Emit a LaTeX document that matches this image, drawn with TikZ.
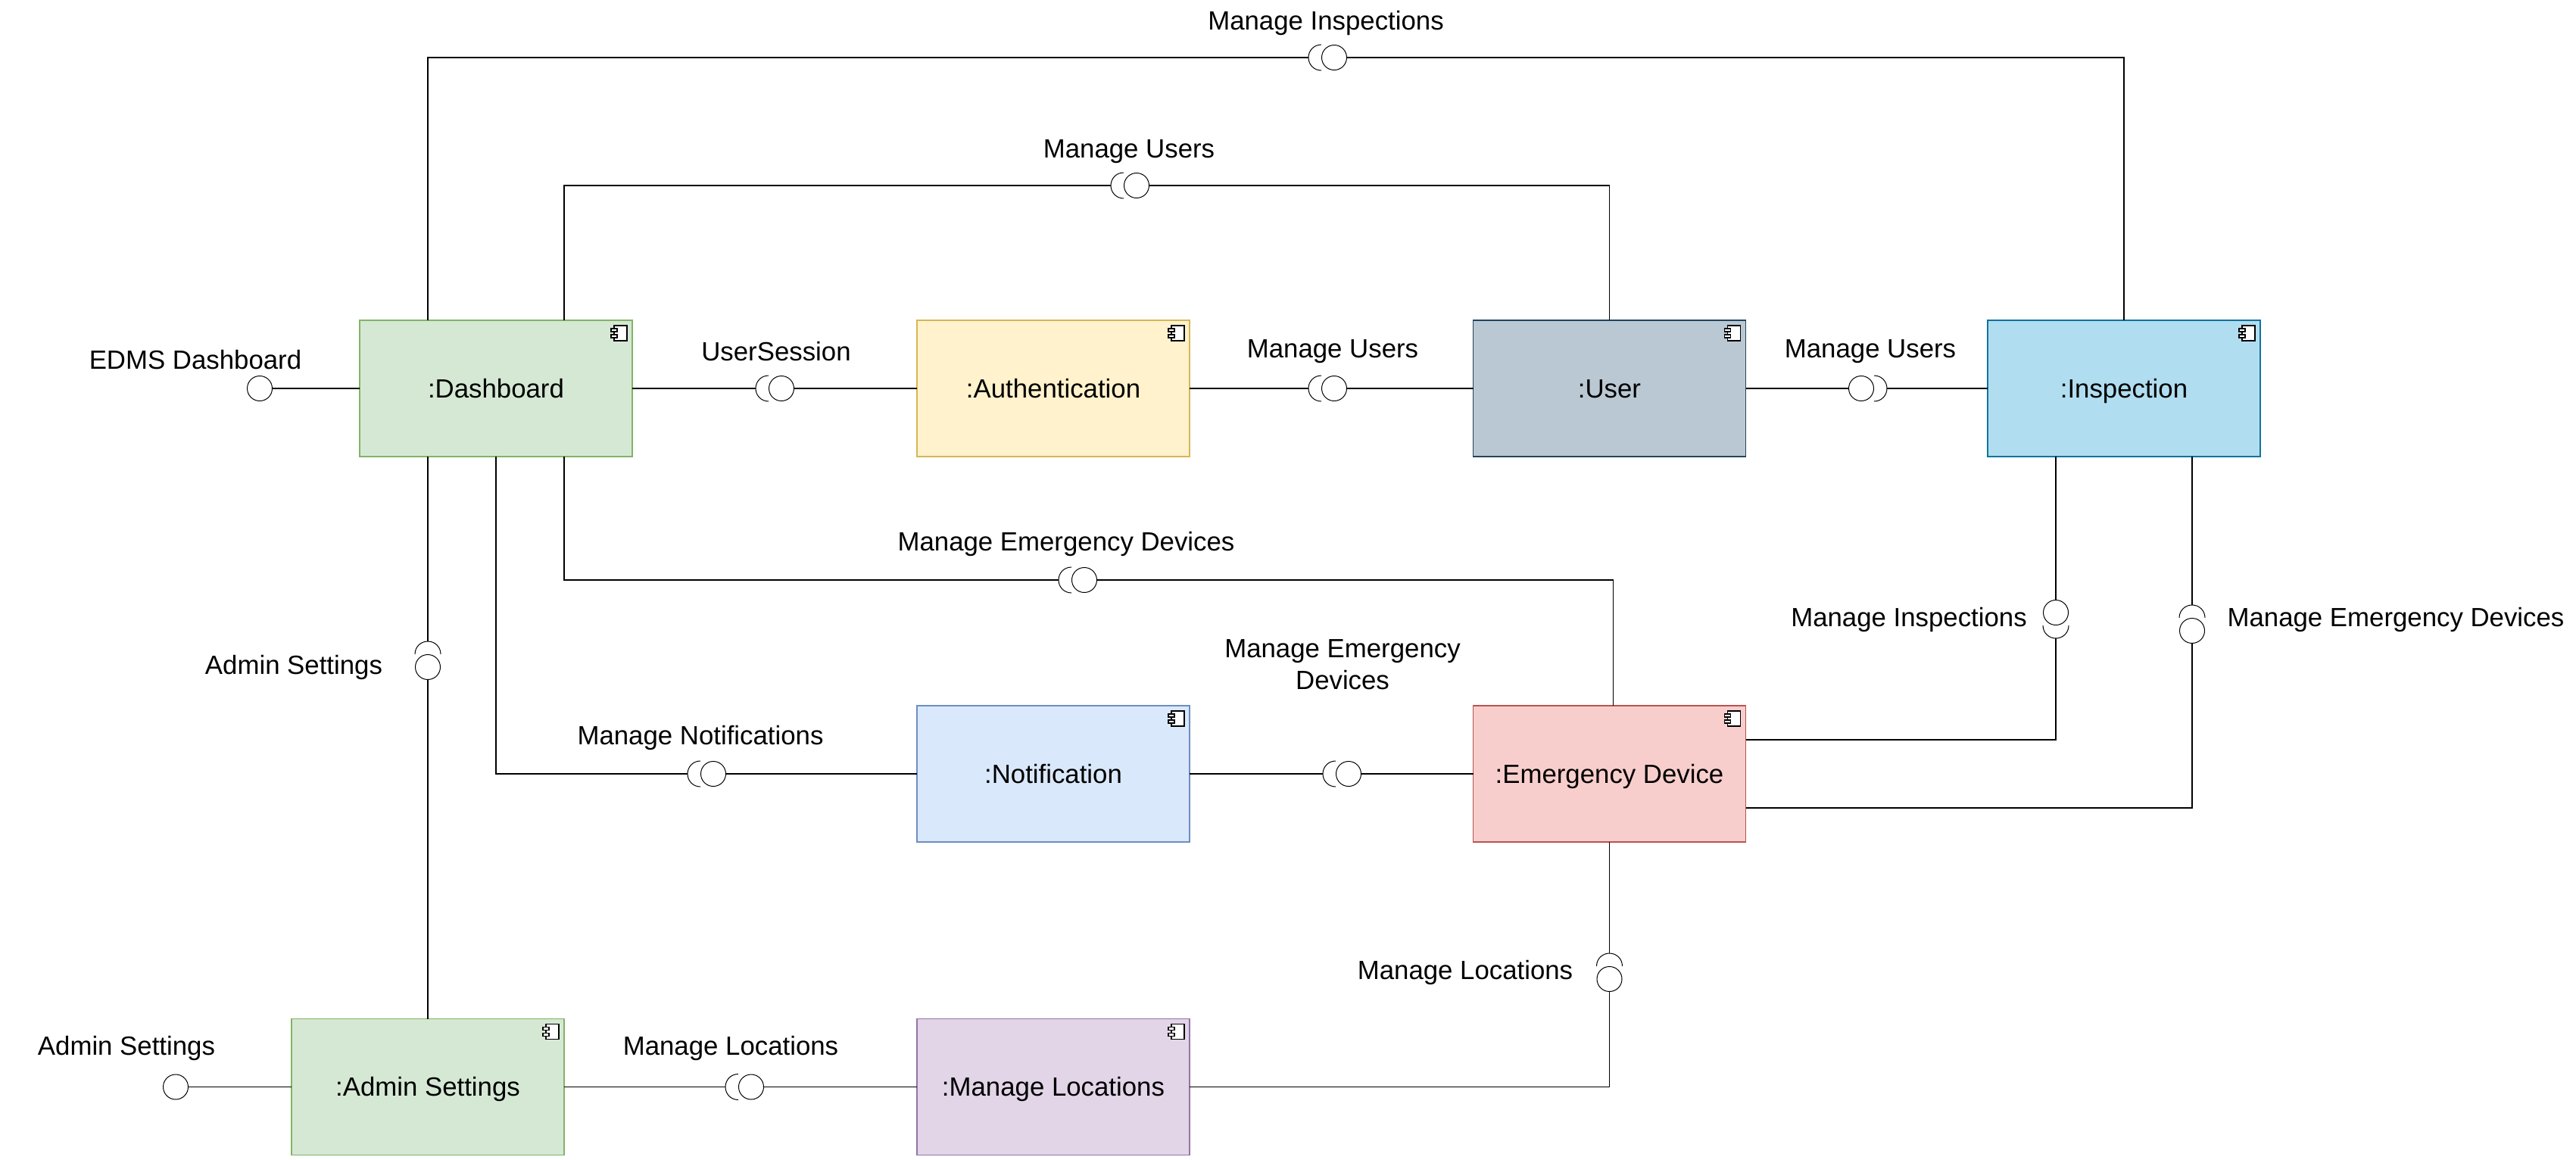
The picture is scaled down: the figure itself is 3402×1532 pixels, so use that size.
\documentclass[tikz,border=0pt]{standalone}
\usepackage{fontspec}
\setmainfont{Liberation Sans}
\definecolor{greenF}{HTML}{D5E8D4}\definecolor{greenD}{HTML}{82B366}
\definecolor{yellowF}{HTML}{FFF2CC}\definecolor{yellowD}{HTML}{D6B656}
\definecolor{slateF}{HTML}{BAC8D3}\definecolor{slateD}{HTML}{23445D}
\definecolor{cyanF}{HTML}{B1DDF0}\definecolor{cyanD}{HTML}{10739E}
\definecolor{blueF}{HTML}{DAE8FC}\definecolor{blueD}{HTML}{6C8EBF}
\definecolor{redF}{HTML}{F8CECC}\definecolor{redD}{HTML}{B85450}
\definecolor{purpleF}{HTML}{E1D5E7}\definecolor{purpleD}{HTML}{9673A6}
\tikzset{
  comp/.style={draw=#1D, fill=#1F, line width=0.7pt, minimum width=180pt, minimum height=90pt, inner sep=0pt, outer sep=0pt, text height=16pt, text depth=3.6pt},
  ball/.style={circle, draw, line width=0.5pt, minimum size=16.5pt, inner sep=0pt},
  lbl/.style={align=center, inner sep=0pt},
  conn/.style={line width=0.6pt},
  pics/socket/.style={code={
    \coordinate (-apex) at (0,0);
    \draw[line width=0.5pt] (17,-17) .. controls (7,-17) and (0,-9) .. (0,0) .. controls (0,9) and (7,17) .. (17,17);
  }},
  pics/compicon/.style={code={
    \draw[line width=0.6pt, fill=white] (-24,7) rectangle (-7,27);
    \draw[line width=0.6pt, fill=white] (-28,11) rectangle (-20,15);
    \draw[line width=0.6pt, fill=white] (-28,19) rectangle (-20,23);
  }},
}
\begin{document}
\begin{tikzpicture}[x=0.5pt, y=-0.5pt, font=\fontsize{17.4}{21}\selectfont]
    \useasboundingbox (0,0) rectangle (3402,1532);

    % Components
    \node[comp=green]  at (655, 513)     (dash)  {:Dashboard};
    \node[comp=yellow] at (1391, 513)    (auth)  {:Authentication};
    \node[comp=slate]  at (2125.5, 513)  (user)  {:User};
    \node[comp=cyan]   at (2805, 513)    (insp)  {:Inspection};
    \node[comp=blue]   at (1391, 1022)   (noti)  {:Notification};
    \node[comp=red]    at (2125.5, 1022) (emer)  {:Emergency Device};
    \node[comp=green]  at (565, 1435.5)  (admin) {:Admin Settings};
    \node[comp=purple] at (1391, 1435.5) (loca)  {:Manage Locations};

    \foreach \n in {dash, auth, user, insp, noti, emer, admin, loca}
      \pic at (\n.north east) {compicon};

    % Balls
    \node[ball] at (343, 513)    (bEdms)   {};
    \node[ball] at (232, 1435.5) (bAdmin)  {};
    \node[ball] at (1762, 76)    (bTop)    {};
    \node[ball] at (1501, 245)   (bUsers)  {};
    \node[ball] at (1032, 513)   (bSess)   {};
    \node[ball] at (1762, 513)   (bAuth)   {};
    \node[ball] at (2458, 513)   (bUser)   {};
    \node[ball] at (1432, 766)   (bEmer)   {};
    \node[ball] at (942, 1022)   (bNoti)   {};
    \node[ball] at (1781, 1022)  (bNoEm)   {};
    \node[ball] at (992, 1435.5) (bLoca)   {};
    \node[ball] at (565, 881)    (bSett)   {};
    \node[ball] at (2125.5, 1293) (bEmLo)  {};
    \node[ball] at (2715, 809)   (bInsp)   {};
    \node[ball] at (2895, 833)   (bInEm)   {};

    % Sockets
    \pic (sTop)   at (1728, 76)    {socket};
    \pic (sUsers) at (1467, 245)   {socket};
    \pic (sSess)  at (998, 513)    {socket};
    \pic (sAuth)  at (1728, 513)   {socket};
    \pic[rotate=180] (sUser) at (2492, 513) {socket};
    \pic (sEmer)  at (1398, 766)   {socket};
    \pic (sNoti)  at (908, 1022)   {socket};
    \pic (sNoEm)  at (1747, 1022)  {socket};
    \pic (sLoca)  at (958, 1435.5) {socket};
    \pic[rotate=-90] (sSett) at (565, 847)  {socket};
    \pic[rotate=-90] (sEmLo) at (2125.5, 1259) {socket};
    \pic[rotate=90]  (sInsp) at (2715, 843) {socket};
    \pic[rotate=-90] (sInEm) at (2895, 799) {socket};

    % Connectors
    \draw[conn] (bEdms) -- (dash);
    \draw[conn] (bAdmin) -- (admin);

    \draw[conn] ([xshift=-45pt]dash.north) |- (sTop-apex);
    \draw[conn] (bTop) -| (insp.north);

    \draw[conn] ([xshift=45pt]dash.north) |- (sUsers-apex);
    \draw[conn] (bUsers) -| (user.north);

    \draw[conn] (dash) -- (sSess-apex);
    \draw[conn] (bSess) -- (auth);

    \draw[conn] (auth) -- (sAuth-apex);
    \draw[conn] (bAuth) -- (user);

    \draw[conn] (user) -- (bUser);
    \draw[conn] (sUser-apex) -- (insp);

    \draw[conn] ([xshift=45pt]dash.south) |- (sEmer-apex);
    \draw[conn] (bEmer) -| ([xshift=2.5pt]emer.north);

    \draw[conn] (dash.south) |- (sNoti-apex);
    \draw[conn] (bNoti) -- (noti);

    \draw[conn] (noti) -- (sNoEm-apex);
    \draw[conn] (bNoEm) -- (emer);

    \draw[conn] ([xshift=-45pt]dash.south) -- (sSett-apex);
    \draw[conn] (bSett) -- (admin);

    \draw[conn] (admin) -- (sLoca-apex);
    \draw[conn] (bLoca) -- (loca);

    \draw[conn] (emer) -- (sEmLo-apex);
    \draw[conn] (bEmLo) |- (loca);

    \draw[conn] ([xshift=-45pt]insp.south) -- (bInsp);
    \draw[conn] (sInsp-apex) |- ([yshift=22.5pt]emer.east);

    \draw[conn] ([xshift=45pt]insp.south) -- (sInEm-apex);
    \draw[conn] (bInEm) |- ([yshift=-22.5pt]emer.east);

    % Labels
    \node[lbl] at (1751, 30)   (tTop)   {Manage Inspections};
    \node[lbl] at (1491, 200)  (tUsers) {Manage Users};
    \node[lbl] at (258, 475)   (tEdms)  {EDMS Dashboard};
    \node[lbl] at (1025, 464)  (tSess)  {UserSession};
    \node[lbl] at (1760, 464)  (tAuth)  {Manage Users};
    \node[lbl] at (2470, 464)  (tUser)  {Manage Users};
    \node[lbl] at (1408, 718)  (tEmer)  {Manage Emergency Devices};
    \node[lbl] at (925, 974)   (tNoti)  {Manage Notifications};
    \node[lbl] at (1773, 878)  (tNoEm)  {Manage Emergency\\Devices};
    \node[lbl] at (2521, 818)  (tInsp)  {Manage Inspections};
    \node[lbl] at (3164, 818)  (tInEm)  {Manage Emergency Devices};
    \node[lbl] at (388, 881)   (tSett)  {Admin Settings};
    \node[lbl] at (1935, 1284) (tEmLo)  {Manage Locations};
    \node[lbl] at (167, 1384)  (tAdmin) {Admin Settings};
    \node[lbl] at (965, 1384)  (tLoca)  {Manage Locations};
\end{tikzpicture}
\end{document}
